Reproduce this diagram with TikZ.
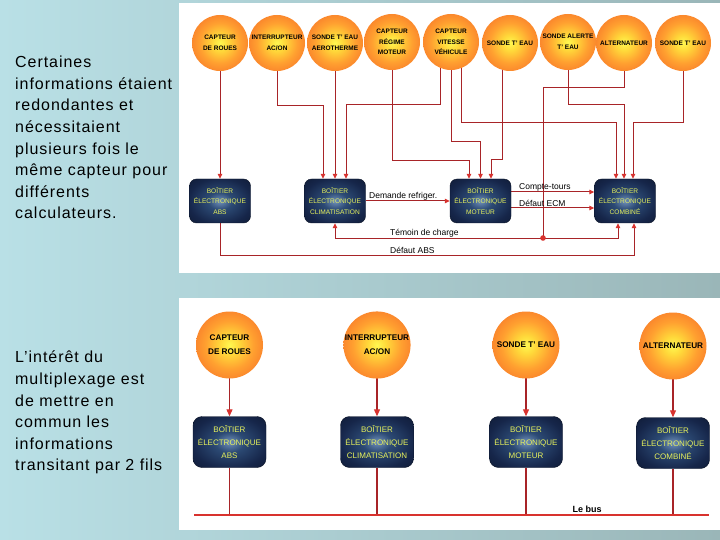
\documentclass[tikz,border=0pt]{standalone}
\usepackage{fontspec}
\setmainfont{Liberation Sans}
\newfontfamily\sidefont{Liberation Sans}[LetterSpace=6]
\usetikzlibrary{arrows.meta}
\definecolor{bgL}{HTML}{B9E0E6}
\definecolor{bgR}{HTML}{9AB6B8}
\definecolor{wirec}{HTML}{A82428}
\definecolor{tipc}{HTML}{D8322E}
\definecolor{sunA}{HTML}{FFF850}
\definecolor{sunB}{HTML}{FFD83A}
\definecolor{sunC}{HTML}{FFA030}
\definecolor{sunD}{HTML}{F8782A}
\definecolor{sunE}{HTML}{E8582C}
\definecolor{ecuA}{HTML}{7090BA}
\definecolor{ecuB}{HTML}{2C4A74}
\definecolor{ecuC}{HTML}{16264A}
\definecolor{ecuD}{HTML}{0B1428}
\definecolor{ecuText}{HTML}{E8F25C}
\pgfdeclareradialshading{sunshade}{\pgfpoint{0bp}{0bp}}{color(0bp)=(sunA); color(7bp)=(sunB); color(18bp)=(sunC); color(30bp)=(sunD); color(38bp)=(sunE); color(100bp)=(sunE)}
\pgfdeclareradialshading{ecushade}{\pgfpoint{0bp}{0bp}}{color(0bp)=(ecuA); color(10bp)=(ecuB); color(26bp)=(ecuC); color(45bp)=(ecuD); color(100bp)=(ecuD)}
\pgfdeclarelayer{bglayer}
\pgfdeclarelayer{wirelayer}
\pgfsetlayers{bglayer,wirelayer,main}
\begin{document}
\begin{tikzpicture}[x=1pt,y=-1pt,
  sun/.style={circle, minimum size=56pt, inner sep=0pt, shading=sunshade, text=black,
    font=\bfseries\fontsize{6.5}{10.5}\selectfont, align=center},
  bigsun/.style={sun, minimum size=67pt, font=\bfseries\fontsize{8.2}{14}\selectfont},
  ecu/.style={rounded corners=7pt, minimum width=61pt, minimum height=44pt, inner sep=0pt,
    shading=ecushade, draw=ecuD, text=ecuText, font=\fontsize{6.6}{10.5}\selectfont, align=center},
  bigecu/.style={ecu, minimum width=73pt, minimum height=51pt, rounded corners=9pt,
    font=\fontsize{8}{13}\selectfont},
  plainwire/.style={draw=wirec, line width=1pt},
  wire/.style={plainwire, -{Triangle[length=5pt,width=4.5pt,color=tipc]}},
  bigplain/.style={draw=wirec, line width=1.1pt},
  bigwire/.style={bigplain, -{Triangle[length=7pt,width=6pt,color=tipc]}},
  bus/.style={draw=tipc, line width=2.4pt},
  lbl/.style={font=\fontsize{8.5}{10}\selectfont, inner sep=0pt, anchor=west, text=black},
  side/.style={font=\sidefont\fontsize{16}{21.6}\selectfont, align=left, anchor=north west, inner sep=0pt, text=black}
]
\useasboundingbox (0,0) rectangle (720,540);
\begin{pgfonlayer}{bglayer}
\shade[left color=bgL, right color=bgR] (0,0) rectangle (720,540);
\fill[white] (179,3) rectangle (720,273);
\fill[white] (179,298) rectangle (720,530);
\end{pgfonlayer}

% side texts
\node[side] (t1) at (15,56) {Certaines\\informations étaient\\redondantes et\\nécessitaient\\plusieurs fois le\\même capteur pour\\différents\\calculateurs.};
\node[side] (t2) at (15,351) {L’intérêt du\\multiplexage est\\de mettre en\\commun les\\informations\\transitant par 2 fils};

% top sensors
\node[sun] (c1) at (220,43) {CAPTEUR\\DE ROUES};
\node[sun] (c2) at (277,43) {INTERRUPTEUR\\AC/ON};
\node[sun] (c3) at (335,43) {SONDE T' EAU\\AEROTHERME};
\node[sun] (c4) at (392,42) {CAPTEUR\\RÉGIME\\MOTEUR};
\node[sun] (c5) at (451,42) {CAPTEUR\\VITESSE\\VÉHICULE};
\node[sun] (c6) at (510,43) {SONDE T' EAU};
\node[sun] (c7) at (568,42) {SONDE ALERTE\\T' EAU};
\node[sun] (c8) at (624,43) {ALTERNATEUR};
\node[sun] (c9) at (683,43) {SONDE T' EAU};

% top ECUs
\node[ecu] (b1) at (220,201) {BOÎTIER\\ÉLECTRONIQUE\\ABS};
\node[ecu] (b2) at (335,201) {BOÎTIER\\ÉLECTRONIQUE\\CLIMATISATION};
\node[ecu] (b3) at (480.5,201) {BOÎTIER\\ÉLECTRONIQUE\\MOTEUR};
\node[ecu] (b4) at (625,201) {BOÎTIER\\ÉLECTRONIQUE\\COMBINÉ};

\coordinate (dot) at (543,238);

\begin{pgfonlayer}{wirelayer}
\draw[wire] (c1.center) -- (b1.north);
\draw[wire] (c2.center) |- (323,106) -- ([xshift=-12pt]b2.north);
\draw[wire] (c3.center) -- (b2.north);
\draw[wire] ([xshift=-11pt]c5.center) |- (346,105) -- ([xshift=11pt]b2.north);
\draw[wire] (c4.center) |- (469,161) -- ([xshift=-11.5pt]b3.north);
\draw[wire] (c5.center) |- (480.5,142) -- (b3.north);
\draw[wire] ([xshift=-8pt]c6.center) |- (491,160) -- ([xshift=10.5pt]b3.north);
\draw[wire] ([xshift=10pt]c5.center) |- (616,123) -- ([xshift=-9pt]b4.north);
\draw[wire] (c7.center) |- (624,105) -- ([xshift=-1pt]b4.north);
\draw[wire] (c9.center) |- (633,123) -- ([xshift=8pt]b4.north);
\draw[plainwire] (c8.center) |- (543,88) -- (dot);
\draw[wire] (dot) -| ([xshift=-7pt]b4.south);
\draw[wire] (dot) -| (b2.south);
\draw[wire] (b1.south) |- (634,255) -- ([xshift=9pt]b4.south);
\draw[wire] (b2.east) -- (b3.west);
\draw[wire] ([yshift=9pt]b3.east) -- ([yshift=9pt]b4.west);
\draw[wire] ([yshift=-7pt]b3.east) -- ([yshift=-7pt]b4.west);
\end{pgfonlayer}
\fill[tipc] (dot) circle (2.8);

\node[lbl] (l1) at (369,196) {Demande refriger.};
\node[lbl] (l2) at (519,187) {Compte-tours};
\node[lbl] (l3) at (519,203) {Défaut ECM};
\node[lbl] (l4) at (390,233) {Témoin de charge};
\node[lbl] (l5) at (390,250) {Défaut ABS};

% bottom panel
\node[bigsun] (d1) at (229.5,345) {CAPTEUR\\DE ROUES};
\node[bigsun] (d2) at (377,345) {INTERRUPTEUR\\AC/ON};
\node[bigsun] (d3) at (526,345) {SONDE T' EAU};
\node[bigsun] (d4) at (673,346) {ALTERNATEUR};

\node[bigecu] (e1) at (229.5,442) {BOÎTIER\\ÉLECTRONIQUE\\ABS};
\node[bigecu] (e2) at (377,442) {BOÎTIER\\ÉLECTRONIQUE\\CLIMATISATION};
\node[bigecu] (e3) at (526,442) {BOÎTIER\\ÉLECTRONIQUE\\MOTEUR};
\node[bigecu] (e4) at (673,443) {BOÎTIER\\ÉLECTRONIQUE\\COMBINÉ};

\coordinate (busL) at (194,515);
\coordinate (busR) at (709,515);
\begin{pgfonlayer}{wirelayer}
\draw[bigwire] (d1.center) -- (e1.north);
\draw[bigwire] (d2.center) -- (e2.north);
\draw[bigwire] (d3.center) -- (e3.north);
\draw[bigwire] (d4.center) -- (e4.north);
\draw[bigplain] (e1.south) -- (e1.south |- busL);
\draw[bigplain] (e2.south) -- (e2.south |- busL);
\draw[bigplain] (e3.south) -- (e3.south |- busL);
\draw[bigplain] (e4.south) -- (e4.south |- busL);
\end{pgfonlayer}
\draw[bus] (busL) -- (busR);
\node[font=\bfseries\fontsize{9}{11}\selectfont, inner sep=0pt] (lb) at (587,509) {Le bus};
\end{tikzpicture}
\end{document}
